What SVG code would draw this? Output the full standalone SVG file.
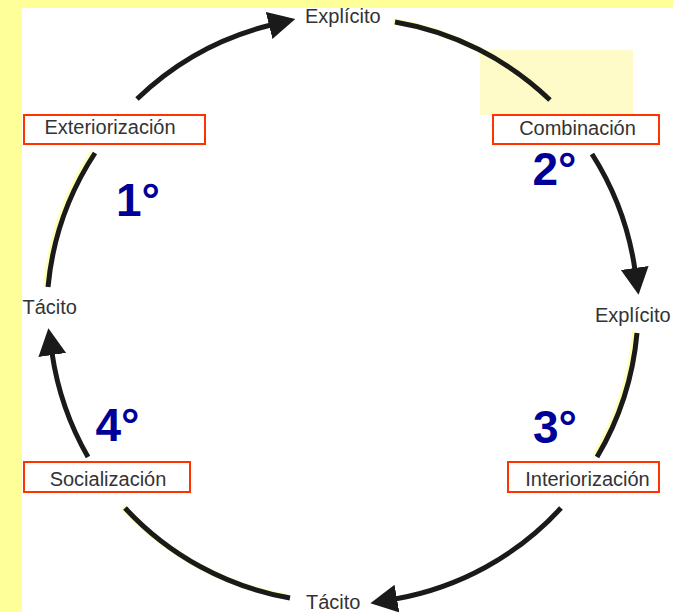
<svg xmlns="http://www.w3.org/2000/svg" width="673" height="612" viewBox="0 0 673 612">
  <style>
    .box { fill: #ffffff; stroke: #ff3300; stroke-width: 2; }
    .lbl { font-family: "Liberation Sans", Arial, sans-serif; font-size: 20px; fill: #333333; }
    .num { font-family: "Liberation Sans", Arial, sans-serif; font-size: 46px; font-weight: bold; fill: #000099; }
    .arc { fill: none; stroke: #1a1a1a; stroke-width: 5; stroke-linecap: butt; }
    .glow { fill: none; stroke: #ffffb8; stroke-width: 6; }
  </style>
  <defs>
    <marker id="ah" markerUnits="userSpaceOnUse" markerWidth="30" markerHeight="30" refX="2" refY="14" orient="auto">
      <path d="M0,0 L27,14 L0,28 z" fill="#1a1a1a"/>
    </marker>
  </defs>

  <rect x="0" y="0" width="673" height="612" fill="#ffff99"/>
  <rect x="22" y="8" width="651" height="604" fill="#ffffff"/>
  <rect x="480" y="50" width="153" height="65" fill="#fffbc8"/>

  <g id="connectors">
    <g transform="translate(-2,-1)">
      <path class="glow" d="M48,287 A294,294 0 0 1 95,153"/>
      <path class="glow" d="M395,22 A294,294 0 0 1 550,100"/>
      <path class="glow" d="M637,333 A294,294 0 0 1 597,457"/>
      <path class="glow" d="M290,598 A294,294 0 0 1 125,508"/>
    </g>
    <path class="arc" d="M48,287 A294,294 0 0 1 95,153"/>
    <path class="arc" d="M137,99 A294,294 0 0 1 271,25" marker-end="url(#ah)"/>
    <path class="arc" d="M395,22 A294,294 0 0 1 550,100"/>
    <path class="arc" d="M592,154 A294,294 0 0 1 635,270" marker-end="url(#ah)"/>
    <path class="arc" d="M637,333 A294,294 0 0 1 597,457"/>
    <path class="arc" d="M561,508 A294,294 0 0 1 395,599" marker-end="url(#ah)"/>
    <path class="arc" d="M290,598 A294,294 0 0 1 125,508"/>
    <path class="arc" d="M88,457 A294,294 0 0 1 52,353" marker-end="url(#ah)"/>
  </g>

  <g id="explicito-top"><text class="lbl" x="305" y="23">Explícito</text></g>
  <g id="tacito-left"><text class="lbl" x="22.5" y="314">Tácito</text></g>
  <g id="explicito-right"><text class="lbl" x="595" y="322">Explícito</text></g>
  <g id="tacito-bottom"><text class="lbl" x="306" y="609">Tácito</text></g>

  <g id="exteriorizacion">
    <rect class="box" x="24" y="115" width="181" height="29"/>
    <text class="lbl" x="110" y="134" text-anchor="middle">Exteriorización</text>
  </g>
  <g id="combinacion">
    <rect class="box" x="493" y="115" width="166" height="29"/>
    <text class="lbl" x="577.5" y="135" text-anchor="middle">Combinación</text>
  </g>
  <g id="socializacion">
    <rect class="box" x="24" y="462" width="166" height="30"/>
    <text class="lbl" x="108" y="486" text-anchor="middle">Socialización</text>
  </g>
  <g id="interiorizacion">
    <rect class="box" x="508" y="462" width="151" height="30"/>
    <text class="lbl" x="587.5" y="486" text-anchor="middle">Interiorización</text>
  </g>

  <g id="step1"><text class="num" x="116" y="216">1°</text></g>
  <g id="step2"><text class="num" x="532.5" y="185">2°</text></g>
  <g id="step3"><text class="num" x="533" y="443">3°</text></g>
  <g id="step4"><text class="num" x="95.5" y="441">4°</text></g>
</svg>
